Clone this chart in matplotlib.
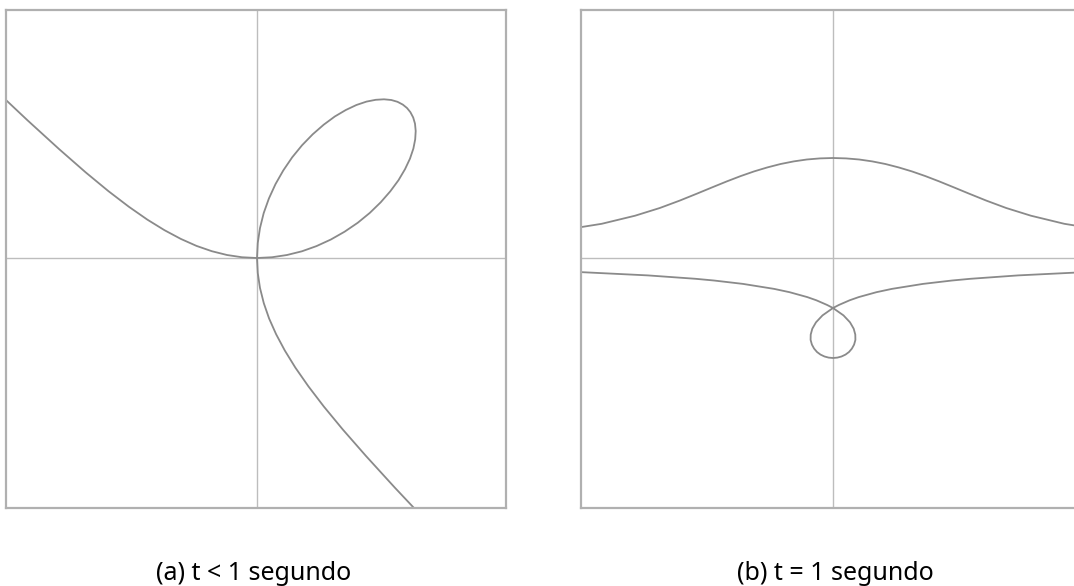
import matplotlib
matplotlib.use("Agg")
import matplotlib.pyplot as plt

# Folio de Descartes (a): laço, ramo superior esquerdo e ramo inferior direito
folium_loop_x = [0.0, 0.150, 0.300, 0.449, 0.595, 0.739, 0.876, 1.007, 1.128, 1.237,
                 1.333, 1.415, 1.480, 1.530, 1.564, 1.582, 1.587, 1.580, 1.562, 1.534,
                 1.500, 1.458, 1.405, 1.343, 1.270, 1.187, 1.095, 0.994, 0.888, 0.778,
                 0.667, 0.557, 0.451, 0.352, 0.263, 0.185, 0.119, 0.067, 0.030, 0.0075, 0.0]
folium_loop_y = [0.0, 0.0075, 0.030, 0.067, 0.119, 0.185, 0.263, 0.352, 0.451, 0.557,
                 0.667, 0.778, 0.888, 0.994, 1.095, 1.187, 1.270, 1.343, 1.405, 1.458,
                 1.500, 1.534, 1.562, 1.580, 1.587, 1.582, 1.564, 1.530, 1.480, 1.415,
                 1.333, 1.237, 1.128, 1.007, 0.876, 0.739, 0.595, 0.449, 0.300, 0.150, 0.0]

folium_left_x = [0.0, -0.150, -0.300, -0.452, -0.605, -0.762, -0.925, -1.097, -1.282,
                 -1.485, -1.714, -1.979, -2.296, -2.689]
folium_left_y = [0.0, 0.0075, 0.030, 0.068, 0.121, 0.191, 0.278, 0.384, 0.513,
                 0.668, 0.857, 1.089, 1.378, 1.748]

folium_right_x = [0.0, 0.0075, 0.030, 0.068, 0.121, 0.191, 0.278, 0.384, 0.513,
                  0.668, 0.857, 1.089, 1.378, 1.748]
folium_right_y = [0.0, -0.150, -0.300, -0.452, -0.605, -0.762, -0.925, -1.097, -1.282,
                  -1.485, -1.714, -1.979, -2.296, -2.689]

# Concoide (b): ramo superior e ramo inferior com laço
conch_upper_x = [-2.832, -2.313, -1.979, -1.732, -1.533, -1.362, -1.207, -1.062, -0.924,
                 -0.789, -0.656, -0.524, -0.393, -0.262, -0.131, 0.0, 0.131, 0.262,
                 0.393, 0.524, 0.656, 0.789, 0.924, 1.062, 1.207, 1.362, 1.533, 1.732,
                 1.979, 2.313, 2.832]
conch_upper_y = [0.259, 0.342, 0.423, 0.500, 0.574, 0.643, 0.707, 0.766, 0.819,
                 0.866, 0.906, 0.940, 0.966, 0.985, 0.996, 1.0, 0.996, 0.985,
                 0.966, 0.940, 0.906, 0.866, 0.819, 0.766, 0.707, 0.643, 0.574, 0.500,
                 0.423, 0.342, 0.259]

conch_lower_x = [-2.567, -1.851, -1.374, -1.191, -0.900, -0.588, -0.434, -0.257, -0.166,
                 -0.058, 0.0, 0.105, 0.170, 0.207, 0.223, 0.224, 0.211, 0.189, 0.160,
                 0.125, 0.085, 0.044, 0.0, -0.044, -0.085, -0.125, -0.160, -0.189,
                 -0.211, -0.224, -0.223, -0.207, -0.170, -0.105, 0.0, 0.058, 0.166,
                 0.257, 0.434, 0.588, 0.900, 1.191, 1.374, 1.851, 2.567]
conch_lower_y = [-0.139, -0.174, -0.208, -0.225, -0.259, -0.309, -0.342, -0.391, -0.423,
                 -0.470, -0.500, -0.574, -0.643, -0.707, -0.766, -0.819, -0.866, -0.906,
                 -0.940, -0.966, -0.985, -0.996, -1.0, -0.996, -0.985, -0.966, -0.940,
                 -0.906, -0.866, -0.819, -0.766, -0.707, -0.643, -0.574, -0.500, -0.470,
                 -0.423, -0.391, -0.342, -0.309, -0.259, -0.225, -0.208, -0.174, -0.139]

captions = ["(a) t < 1 segundo", "(b) t = 1 segundo"]

curve_color = "#8a8a8a"
axis_color = "#bdbdbd"
frame_color = "#b0b0b0"

dpi = 100
fig = plt.figure(figsize=(1074 / dpi, 586 / dpi), dpi=dpi)
W, H = 1074, 586

ax_a = fig.add_axes((6 / W, (H - 508) / H, 500 / W, 498 / H))
ax_b = fig.add_axes((581 / W, (H - 508) / H, 500 / W, 498 / H))

ax_a.plot(folium_loop_x, folium_loop_y, color=curve_color, lw=1.3)
ax_a.plot(folium_left_x, folium_left_y, color=curve_color, lw=1.3)
ax_a.plot(folium_right_x, folium_right_y, color=curve_color, lw=1.3)
ax_a.set_xlim(-2.51, 2.49)

ax_b.plot(conch_upper_x, conch_upper_y, color=curve_color, lw=1.3)
ax_b.plot(conch_lower_x, conch_lower_y, color=curve_color, lw=1.3)
ax_b.set_xlim(-2.52, 2.48)

for ax in (ax_a, ax_b):
    ax.set_ylim(-2.50, 2.48)
    ax.axhline(0, color=axis_color, lw=1.0, zorder=0)
    ax.axvline(0, color=axis_color, lw=1.0, zorder=0)
    ax.set_xticks([])
    ax.set_yticks([])
    for sp in ax.spines.values():
        sp.set_color(frame_color)
        sp.set_linewidth(1.6)

# legendas por baixo de cada painel
fig.text(254 / W, 1 - 580 / H, captions[0], ha="center", va="baseline",
         fontsize=18, family="Noto Sans", color="black")
fig.text(835 / W, 1 - 580 / H, captions[1], ha="center", va="baseline",
         fontsize=18, family="Noto Sans", color="black")

fig.savefig("out.png", dpi=dpi)
